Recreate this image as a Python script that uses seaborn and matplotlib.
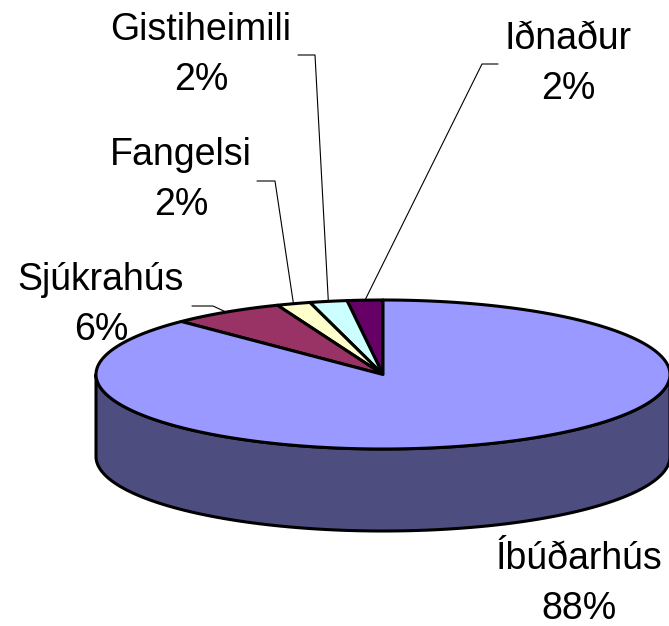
import numpy as np
import matplotlib.pyplot as plt
import seaborn as sns
from matplotlib.patches import Polygon

# data
labels = ['Iðnaður', 'Gistiheimili', 'Fangelsi', 'Sjúkrahús', 'Íbúðarhús']
values = [2.0, 2.1, 1.9, 6.4, 87.6]
pct_labels = ['2%', '2%', '2%', '6%', '88%']
colors = ['#660066', '#CCFFFF', '#FFFFCC', '#993366', '#9999FF']

# layout in pixels (image coords, y down)
cx, cy, rx, ry, depth = 383, 374.5, 287, 74.5, 82
label_pos = [(568, 49), (201, 40), (181, 165), (101, 290), (579, 569)]
elbows = [[(498, 64), (482, 64)], [(298, 55), (315, 55)],
          [(257, 181), (275, 181)], [(192, 306), (213, 306)], None]

sns.set_theme(style='white')
plt.rcParams['font.family'] = ['Liberation Sans', 'DejaVu Sans']

fig = plt.figure(figsize=(6.69, 6.26), dpi=100)
ax = fig.add_axes([0, 0, 1, 1])
ax.set_xlim(0, 669)
ax.set_ylim(626, 0)
ax.axis('off')


def rim(phi, dy=0):
    r = np.radians(phi)
    return cx + rx * np.cos(r), cy - ry * np.sin(r) + dy


def darker(c, f=0.5):
    rgb = np.array(sns.utils.to_rgb(c))
    return tuple(rgb * f)


# slice angles, starting at 12 o'clock going counterclockwise
total = sum(values)
edges = 90 + np.concatenate([[0], np.cumsum(values)]) / total * 360

# side walls (front half only)
for i in range(len(values)):
    a0, a1 = edges[i], edges[i + 1]
    for f0, f1 in [(180, 360), (540, 720)]:
        lo, hi = max(a0, f0), min(a1, f1)
        if hi <= lo:
            continue
        phis = np.linspace(lo, hi, 200)
        top = [rim(p) for p in phis]
        bot = [rim(p, depth) for p in phis[::-1]]
        ax.add_patch(Polygon(top + bot, closed=True, facecolor=darker(colors[i]),
                             edgecolor='black', lw=2.2, zorder=3, joinstyle='round'))

# top wedges
for i in range(len(values)):
    phis = np.linspace(edges[i], edges[i + 1], 300)
    pts = [(cx, cy)] + [rim(p) for p in phis]
    ax.add_patch(Polygon(pts, closed=True, facecolor=colors[i],
                         edgecolor='black', lw=2.2, zorder=4, joinstyle='round'))

# labels and leader lines
for i in range(len(values)):
    x, y = label_pos[i]
    ax.text(x, y, labels[i], ha='center', va='baseline', fontsize=27,
            color='black', zorder=2)
    ax.text(x, y + 50, pct_labels[i], ha='center', va='baseline', fontsize=27,
            color='black', zorder=2)
    if elbows[i] is not None:
        mid = (edges[i] + edges[i + 1]) / 2
        ex, ey = rim(mid)
        xs = [p[0] for p in elbows[i]] + [ex]
        ys = [p[1] for p in elbows[i]] + [ey]
        ax.plot(xs, ys, color='black', lw=0.8, zorder=2)

fig.savefig('out.png', dpi=100)
